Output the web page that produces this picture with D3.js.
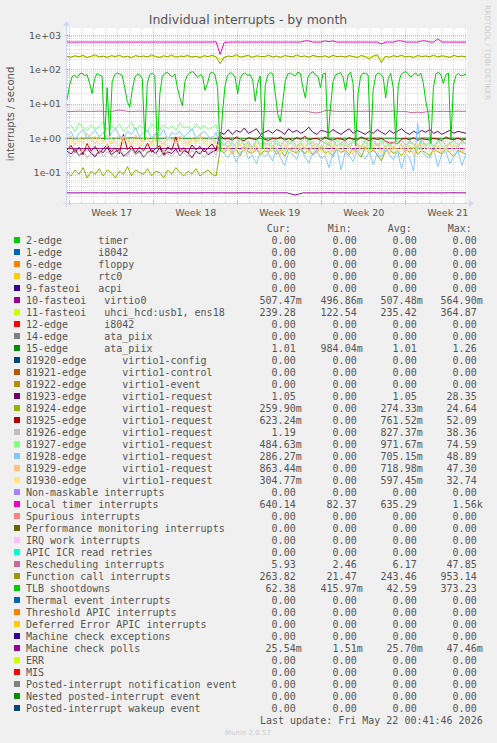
<!DOCTYPE html>
<html><head><meta charset="utf-8">
<script src="https://cdn.jsdelivr.net/npm/d3@7"></script>
<style>
html,body{margin:0;padding:0;background:#F0F0F0;}
svg{display:block;}
text{font-family:"DejaVu Sans",sans-serif;}
.mono{font-family:"DejaVu Sans Mono",monospace;font-size:10px;white-space:pre;}
</style></head><body>
<svg id="c" width="497" height="743"></svg>
<script>
// ---------------- data ----------------
const titleText = "Individual interrupts - by month";
const yAxisTitle = "interrupts / second";
const yTickValues = [0.1, 1, 10, 100, 1000];
const yTickLabels = ["1e-01", "1e+00", "1e+01", "1e+02", "1e+03"];
const weekStarts = ["2026-04-20", "2026-04-27", "2026-05-04", "2026-05-11", "2026-05-18"];
const weekLabels = ["Week 17", "Week 18", "Week 19", "Week 20", "Week 21"];

const virtio0 = [0.507,0.508,0.507,0.506,0.507,0.509,0.507,0.507,0.508,0.506,
 0.507,0.507,0.508,0.507,0.506,0.507,0.509,0.507,0.507,0.508,
 0.507,0.506,0.507,0.507,0.508,0.507,0.507,0.506,0.509,0.507,
 0.507,0.508,0.507,0.506,0.507,0.507,0.508,0.507,0.506,0.507,
 0.509,0.507,0.507,0.508,0.507,0.506,0.507,0.507,0.508,0.507];
const usbEns = [236,234,237,235,238,233,236,239,235,234,
 237,235,233,236,238,234,236,235,237,233,
 235,238,234,236,233,237,235,236,234,238,
 236,233,235,237,234,236,238,235,200,232,
 234,236,238,235,233,237,234,236,235,238,
 233,236,235,237,234,238,235,233,236,234,
 237,235,233,236,238,234,236,235,237,233,
 235,238,234,236,233,237,235,236,210,238,
 236,233,235,237,234,236,238,235,233,237,
 234,236,238,235,233,237,234,236,235,234];
const ataPiix = [1.01,1.00,1.01,1.02,1.01,1.00,1.01,1.01,1.03,1.01,
 1.00,1.01,1.01,1.02,1.01,1.00,1.01,1.01,1.00,1.01,
 1.02,1.01,1.00,1.01,1.01,1.02,1.01,1.00,1.01,1.01,
 1.00,1.01,1.02,1.01,1.01,1.00,1.01,1.01,1.02,1.01,
 1.01,1.00,1.01,1.01,1.02,1.01,1.00,1.01,1.01,1.01];
const req23 = [.42,.35,.48,.31,.39,.52,.36,.29,.44,.38,
 .55,.33,.41,.47,.30,.37,.50,.34,.43,.28,
 .39,.46,.35,.53,.32,.40,.36,.49,.31,.44,
 .38,.27,.42,.35,.51,.33,.40,.45,1.5,1.3,
 1.8,1.3,1.7,1.5,2.0,1.4,1.6,1.9,1.3,1.5,
 1.7,1.4,1.8,1.6,1.3,1.9,1.5,1.7,1.4,1.6,
 2.1,1.5,1.3,1.7,1.6,1.4,1.8,1.5,1.3,1.6,
 1.9,1.4,1.7,1.5,1.3,1.6,1.4,1.8,1.5,1.3,
 1.7,1.4,1.6,1.9,1.5,1.3,1.6,1.4,1.7,1.5,
 1.8,1.4,1.6,1.3,1.5,1.7,1.4,1.6,1.5,1.4];
const req24 = [.10,.08,.12,.09,.14,.07,.11,.09,.13,.08,
 .12,.10,.07,.11,.09,.15,.08,.12,.10,.09,
 .13,.08,.11,.10,.07,.12,.09,.14,.10,.08,
 .11,.09,.13,.08,.10,.12,.09,.08,.45,.38,
 .52,.35,.47,.31,.58,.40,.36,.49,.33,.44,
 .39,.55,.34,.46,.30,.50,.42,.37,.53,.35,
 .48,.32,.44,.57,.36,.41,.30,.51,.38,.45,
 .34,.49,.40,.28,.55,.37,.46,.33,.22,.42,
 .50,.36,.43,.31,.47,.39,.56,.34,.44,.38,
 .32,.48,.41,.35,.52,.37,.30,.45,.39,.34];
const req25 = [.45,.62,.38,.55,.33,.70,.42,.58,.36,.50,
 .65,.40,.52,.35,1.3,.47,.60,.38,.55,.43,
 .72,.39,.50,.61,.34,.56,.45,1.1,.41,.53,
 .37,.64,.46,.58,.40,.52,.68,.44,1.2,.95,
 1.0,.88,1.1,.92,.85,1.05,.97,.90,1.2,.93,
 .87,1.0,.95,1.1,.89,.98,.86,1.05,.93,1.15,
 .90,.97,1.0,.85,1.1,.92,.88,1.0,.95,.87,
 1.05,.93,.89,1.1,.96,.86,1.0,.92,.98,.85,
 .72,.75,.70,.95,1.0,.90,1.05,.88,.97,.93,
 .89,1.0,.94,.86,1.1,.95,.90,1.02,.88,.96];
const req26 = [.35,.28,.42,.31,.48,.26,.38,.33,.45,.29,
 .40,.32,.27,.44,.36,.30,.50,.34,.39,.27,
 .43,.31,.37,.28,.46,.35,.30,.41,.33,.38,
 .29,.45,.34,.40,.27,.36,.48,.32,.75,.62,
 .85,.58,.72,.95,.64,.80,.55,.90,.68,.77,
 .60,.88,.70,.57,.93,.66,.82,.59,.76,1.0,
 .65,.79,.56,.87,.71,.62,.92,.58,.74,.83,
 .63,.90,.69,.55,.81,.66,.94,.60,.72,.85,
 .58,.77,.67,.89,.61,.84,.70,.56,.91,.64,
 .80,.62,.75,.96,.59,.73,.86,.65,.78,.70];
const req27 = [1.9,2.4,1.6,2.8,2.0,1.7,2.5,1.8,2.2,3.0,
 1.7,2.3,1.9,2.6,1.6,2.1,2.9,1.8,2.4,2.0,
 1.6,2.7,2.1,1.8,2.5,1.9,2.3,1.7,2.8,2.0,
 2.2,1.7,2.6,1.9,2.4,1.8,2.1,2.5,0.9,0.7,
 .55,.80,.48,.95,.62,.72,.45,.88,.58,.68,
 .75,.50,.92,.60,.42,.85,.66,.53,.78,.47,
 .90,.57,.70,.46,.83,.63,.52,.97,.61,.74,
 .49,.81,.65,.56,.88,.44,.76,.59,.93,.54,
 .70,.47,.86,.62,.51,.79,.68,.45,.84,.57,
 .73,.52,.89,.60,.48,.77,.64,.55,.82,.66];
const req28 = [1.2,1.6,0.9,1.4,1.8,1.0,1.3,1.7,1.1,1.5,
 0.9,1.4,1.9,1.2,1.0,1.6,1.3,2.0,1.1,1.5,
 1.7,1.0,1.4,1.2,1.8,0.9,1.5,1.3,1.6,1.1,
 1.4,1.9,1.0,1.3,1.6,1.2,0.9,1.5,.50,.35,
 .28,.45,.20,.38,.55,.25,.32,.18,.42,.30,
 .36,.22,.48,.27,.16,.40,.33,.24,.52,.29,
 .19,.37,.44,.26,.31,.14,.35,.47,.12,.39,
 .30,.21,.46,.34,.25,.41,.17,.38,.28,.50,
 .33,.24,.43,.13,.36,.27,.11,2.8,.39,.31,
 .26,.48,.15,.35,.42,.18,.30,.44,.16,.37];
const req29 = [.85,1.2,.65,1.0,.75,1.4,.90,.70,1.1,.80,
 1.3,.68,.95,1.15,.72,1.0,.62,1.25,.88,.78,
 1.05,.70,1.35,.82,.66,1.1,.92,.74,1.2,.86,
 .69,1.0,.80,1.3,.76,.93,1.15,.71,.60,.45,
 .62,.38,.55,.70,.42,.66,.35,.58,.48,.75,
 .40,.63,.52,.33,.68,.46,.57,.39,.72,.50,
 .44,.65,.36,.59,.49,.78,.41,.54,.37,.67,
 .53,.34,.70,.45,.61,.38,.56,.73,.43,.60,
 .35,.57,.47,.69,.40,.63,.32,.51,.74,.46,
 .58,.41,.66,.37,.55,.71,.44,.60,.39,.52];
const req30 = [.70,.95,.60,1.1,.78,.55,.88,1.2,.66,.82,
 .58,1.0,.74,.62,1.15,.80,.68,.92,.57,1.05,
 .76,.63,.98,.71,.59,1.1,.84,.65,.90,.73,
 .61,.87,.69,1.0,.77,.56,.94,.67,.50,.40,
 .55,.32,.48,.65,.38,.58,.44,.70,.36,.52,
 .62,.40,.53,.35,.67,.45,.30,.59,.49,.72,
 .37,.56,.64,.42,.50,.33,.68,.46,.57,.39,
 .60,.43,.35,.66,.51,.40,.71,.47,.36,.58,
 .45,.63,.38,.54,.30,.61,.49,.74,.41,.55,
 .50,.34,.62,.44,.57,.39,.67,.48,.42,.60];
const localTimer = [640,641,639,640,642,640,639,641,640,640,
 641,640,639,640,642,641,640,639,640,641,
 640,639,641,640,640,642,640,639,641,640,
 640,641,640,639,640,641,640,655,280,630,
 638,640,641,640,639,640,641,640,640,639,
 640,641,640,639,640,641,640,640,641,690,
 690,640,640,640,690,660,690,640,640,641,
 640,639,640,641,640,640,639,640,560,640,
 640,640,690,690,640,641,640,640,690,690,
 640,640,800,640,641,640,640,639,640,640];
const resched = [6.1,6.0,6.1,6.2,6.1,6.0,6.1,6.1,6.2,6.1,
 6.0,6.1,6.3,6.6,6.4,6.1,6.0,6.1,6.2,6.1,
 6.1,6.0,6.1,6.1,6.2,6.1,6.0,6.1,6.1,6.0,
 6.1,6.2,6.1,6.0,6.1,6.1,6.0,6.1,5.9,6.0,
 6.1,6.1,6.0,6.1,6.2,6.1,6.0,6.1,6.1,6.0,
 6.1,6.0,6.1,6.2,6.1,6.1,6.0,6.1,6.1,6.2,
 6.0,5.6,5.5,5.8,6.3,6.6,6.2,6.1,6.0,6.1,
 6.1,6.0,6.1,6.1,6.2,6.1,6.0,6.1,6.1,6.0,
 6.1,6.2,6.1,6.0,6.1,5.7,5.6,5.8,5.6,5.9,
 6.2,6.1,6.0,6.1,6.1,6.0,6.1,6.2,6.1,6.1];
const funcCall = [245,230,255,238,262,225,248,270,235,250,
 228,258,242,265,232,247,222,260,240,252,
 236,268,243,226,255,239,272,231,250,244,
 260,233,248,225,257,241,266,236,150,228,
 252,240,275,232,248,262,229,255,243,238,
 268,234,251,227,259,245,236,270,241,253,
 230,262,244,237,256,228,265,240,249,233,
 258,243,226,262,239,205,250,271,160,246,
 229,257,240,266,235,248,224,260,243,252,
 238,270,232,255,244,228,263,240,250,236];
const tlb = [13,35,62,70,58,75,80,66,72,40,
 20,55,78,70,64,0.9,30,1.2,45,72,
 80,76,68,30,12,8,25,60,74,70,
 55,0.9,40,72,80,66,0.5,20,65,78,
 84,70,62,75,30,15,9,45,70,82,
 88,76,60,72,65,25,40,78,85,70,
 30,0.42,6,35,70,82,76,60,20,55,
 75,80,68,72,50,12,40,66,0.5,35,
 70,82,76,20,5,3,12,48,75,80,
 72,66,85,78,30,15,60,78,88,70,
 64,30,75,80,1.0,8,45,70,76,82,
 60,25,70,85,40,0.6,20,65,80,78,
 70,0.5,25,68,80,74,60,15,55,78,
 30,0.8,35,70,82,88,76,60,72,80,
 65,80,40,12,5,0.7,30,75,85,70,
 40,72,80,0.9,35,68,78,66,70,75];
const mcPolls = [0.0257,0.0256,0.0258,0.0257,0.0257,0.0256,0.0257,0.0258,0.0257,0.0256,
 0.0257,0.0257,0.0258,0.0256,0.0257,0.0257,0.0256,0.0258,0.0257,0.0257,
 0.0256,0.0257,0.0258,0.0257,0.0256,0.0257,0.0257,0.0258,0.0222,0.0257,
 0.0256,0.0257,0.0258,0.0257,0.0257,0.0256,0.0257,0.0258,0.0257,0.0256,
 0.0257,0.0257,0.0258,0.0256,0.0257,0.0257,0.0256,0.0258,0.0257,0.0257];

const legendNames = ["2-edge      timer","1-edge      i8042","6-edge      floppy","8-edge      rtc0",
 "9-fasteoi   acpi","10-fasteoi   virtio0","11-fasteoi   uhci_hcd:usb1, ens18","12-edge      i8042",
 "14-edge      ata_piix","15-edge      ata_piix","81920-edge      virtio1-config","81921-edge      virtio1-control",
 "81922-edge      virtio1-event","81923-edge      virtio1-request","81924-edge      virtio1-request",
 "81925-edge      virtio1-request","81926-edge      virtio1-request","81927-edge      virtio1-request",
 "81928-edge      virtio1-request","81929-edge      virtio1-request","81930-edge      virtio1-request",
 "Non-maskable interrupts","Local timer interrupts","Spurious interrupts","Performance monitoring interrupts",
 "IRQ work interrupts","APIC ICR read retries","Rescheduling interrupts","Function call interrupts",
 "TLB shootdowns","Thermal event interrupts","Threshold APIC interrupts","Deferred Error APIC interrupts",
 "Machine check exceptions","Machine check polls","ERR","MIS","Posted-interrupt notification event",
 "Nested posted-interrupt event","Posted-interrupt wakeup event"];
const legendColors = ["#00CC00","#0066B3","#FF8000","#FFCC00","#330099","#990099","#CCFF00","#FF0000",
 "#808080","#008F00","#00487D","#B35A00","#B38F00","#6B006B","#8FB300","#B30000","#BEBEBE","#80FF80",
 "#80C9FF","#FFC080","#FFE680","#AA80FF","#EE00CC","#FF8080","#666600","#FFBFFF","#00FFCC","#CC6699",
 "#999900","#00CC00","#0066B3","#FF8000","#FFCC00","#330099","#990099","#CCFF00","#FF0000","#808080",
 "#008F00","#00487D"];
const Z = "0.00";
const curVals = [Z,Z,Z,Z,Z,"507.47m","239.28",Z,Z,"1.01",Z,Z,Z,"1.05","259.90m","623.24m","1.19","484.63m",
 "286.27m","863.44m","304.77m",Z,"640.14",Z,Z,Z,Z,"5.93","263.82","62.38",Z,Z,Z,Z,"25.54m",Z,Z,Z,Z,Z];
const minVals = [Z,Z,Z,Z,Z,"496.86m","122.54",Z,Z,"984.04m",Z,Z,Z,Z,Z,Z,Z,Z,
 Z,Z,Z,Z,"82.37",Z,Z,Z,Z,"2.46","21.47","415.97m",Z,Z,Z,Z,"1.51m",Z,Z,Z,Z,Z];
const avgVals = [Z,Z,Z,Z,Z,"507.48m","235.42",Z,Z,"1.01",Z,Z,Z,"1.05","274.33m","761.52m","827.37m","971.67m",
 "705.15m","718.98m","597.45m",Z,"635.29",Z,Z,Z,Z,"6.17","243.46","42.59",Z,Z,Z,Z,"25.70m",Z,Z,Z,Z,Z];
const maxVals = [Z,Z,Z,Z,Z,"564.90m","364.87",Z,Z,"1.26",Z,Z,Z,"28.35","24.64","52.09","38.36","74.59",
 "48.89","47.30","32.74",Z,"1.56k",Z,Z,Z,Z,"47.85","953.14","373.23",Z,Z,Z,Z,"47.46m",Z,Z,Z,Z,Z];
const columnHeaders = ["Cur:", "Min:", "Avg:", "Max:"];
const lastUpdate = "Last update: Fri May 22 00:41:46 2026";
const footer = "Munin 2.0.57";
const sideText = "RRDTOOL / TOBI OETIKER";

// series drawn in legend order: [legend index, values]
const plotted = [[5, virtio0],[6, usbEns],[9, ataPiix],[13, req23],[14, req24],[15, req25],[16, req26],
 [17, req27],[18, req28],[19, req29],[20, req30],[22, localTimer],[27, resched],[28, funcCall],[29, tlb],[34, mcPolls]];

// ---------------- layout ----------------
const X0 = 67, XS = 400, Y0 = 203, YS = 175;
const timeStart = new Date(Date.UTC(2026, 3, 19, 18, 36));
const spanMs = 400 / 12 * 86400000;
const timeEnd = new Date(timeStart.getTime() + spanMs);
const FONT = "#555555";
const MINOR = "rgba(143,143,143,0.32)", MAJOR = "rgba(222,79,79,0.45)";

const svg = d3.select("#c");
svg.append("rect").attr("width", 497).attr("height", 743).attr("fill", "#F0F0F0");
svg.append("rect").attr("x", X0).attr("y", Y0 - YS).attr("width", XS).attr("height", YS).attr("fill", "#FFFFFF");

const x = d3.scaleUtc().domain([timeStart, timeEnd]).range([X0, X0 + XS]);
const y = d3.scaleLog().domain([0.013, 1644]).range([Y0, Y0 - YS]);

const snap = v => Math.round(v) + 0.5;

// horizontal grid (log ticks: 1..9 x 10^k)
const g = svg.append("g");
const allY = y.ticks(30);
allY.forEach(v => {
  const major = Math.abs(Math.log10(v) - Math.round(Math.log10(v))) < 1e-9;
  const yy = snap(y(v) - 0.5);
  if (yy < Y0 - YS || yy > Y0) return;
  g.append("line").attr("x1", X0).attr("x2", X0 + XS).attr("y1", yy).attr("y2", yy)
    .attr("stroke", major ? MAJOR : MINOR)
    .attr("stroke-width", 1).attr("stroke-dasharray", "1,1");
  const tl = major ? 2 : 1;
  g.append("line").attr("x1", X0 - tl).attr("x2", X0 + tl).attr("y1", yy).attr("y2", yy)
      .attr("stroke", major ? MAJOR : MINOR).attr("stroke-width", 1);
});
// vertical grid
const days = d3.utcDay.range(d3.utcDay.ceil(timeStart), timeEnd);
const weekDates = weekStarts.map(s => new Date(s + "T00:00:00Z"));
const isWeek = d => weekDates.some(w => w.getTime() === d.getTime());
days.forEach(d => {
  const major = isWeek(d);
  const xx = snap(x(d) - 0.5);
  g.append("line").attr("x1", xx).attr("x2", xx).attr("y1", Y0 - YS).attr("y2", Y0)
    .attr("stroke", major ? MAJOR : MINOR)
    .attr("stroke-width", 1).attr("stroke-dasharray", "1,1");
  const tl = major ? 2 : 1;
  g.append("line").attr("x1", xx).attr("x2", xx).attr("y1", Y0 - tl).attr("y2", Y0 + tl)
      .attr("stroke", major ? MAJOR : MINOR).attr("stroke-width", 1);
});

// series
svg.append("clipPath").attr("id", "clip").append("rect")
  .attr("x", X0).attr("y", Y0 - YS).attr("width", XS).attr("height", YS);
const lineGen = d3.line()
  .defined(d => d > 0)
  .x((d, i, arr) => x(new Date(timeStart.getTime() + i * (spanMs * 399 / 400) / (arr.length - 1))))
  .y(d => y(d));
const sg = svg.append("g").attr("clip-path", "url(#clip)");
plotted.forEach(([li, vals]) => {
  sg.append("path").attr("d", lineGen(vals)).attr("fill", "none")
    .attr("stroke", legendColors[li]).attr("stroke-width", 1).attr("stroke-linejoin", "round");
});

// axes
const AX = "#CFD6F8";
svg.append("line").attr("x1", X0 - 4).attr("x2", X0 + XS + 4).attr("y1", Y0 + 0.5).attr("y2", Y0 + 0.5)
  .attr("stroke", AX).attr("stroke-width", 1);
svg.append("line").attr("x1", X0 - 0.5).attr("x2", X0 - 0.5).attr("y1", Y0 + 4).attr("y2", Y0 - YS - 4)
  .attr("stroke", AX).attr("stroke-width", 1);
svg.append("polygon").attr("points", [[X0+XS+2, Y0-3],[X0+XS+2, Y0+4],[X0+XS+7, Y0+0.5]].join(" ")).attr("fill", AX);
svg.append("polygon").attr("points", [[X0-4, Y0-YS-2],[X0+3, Y0-YS-2],[X0-0.5, Y0-YS-7]].join(" ")).attr("fill", AX);

// y tick labels
yTickValues.forEach((v, i) => {
  svg.append("text").attr("x", 61).attr("y", y(v) + 3.4).attr("text-anchor", "end")
    .attr("font-size", "9.5px").attr("fill", FONT).text(yTickLabels[i]);
});
// x labels
weekDates.forEach((d, i) => {
  const mid = new Date(d.getTime() + 3.5 * 86400000);
  svg.append("text").attr("x", x(mid)).attr("y", 216).attr("text-anchor", "middle")
    .attr("font-size", "9.5px").attr("fill", FONT).text(weekLabels[i]);
});

// titles
svg.append("text").attr("x", 248).attr("y", 24).attr("text-anchor", "middle")
  .attr("font-size", "12.5px").attr("fill", FONT).text(titleText);
svg.append("text").attr("transform", "translate(14,114) rotate(-90)").attr("text-anchor", "middle")
  .attr("font-size", "10px").attr("fill", FONT).text(yAxisTitle);
svg.append("text").attr("transform", "translate(485,5) rotate(90)").attr("text-anchor", "start")
  .attr("font-size", "7.4px").attr("fill", "#CCCCCC").text(sideText);

// legend
const colEnds = [295.7, 356.7, 416.7, 476.7];
columnHeaders.forEach((h, i) => {
  svg.append("text").attr("class", "mono").attr("x", colEnds[i] - 29).attr("y", 231.5)
    .attr("fill", FONT).text(h);
});
const cols = [curVals, minVals, avgVals, maxVals];
legendNames.forEach((name, k) => {
  const cy = 240 + 12 * k;
  svg.append("rect").attr("x", 14).attr("y", cy - 3).attr("width", 6).attr("height", 6)
    .attr("fill", legendColors[k]);
  svg.append("text").attr("class", "mono").attr("xml:space", "preserve").attr("x", 26).attr("y", cy + 3.5)
    .attr("fill", FONT).text(name);
  cols.forEach((arr, c) => {
    const m = arr[k].match(/^([\d.]+)([mk]?)$/);
    svg.append("text").attr("class", "mono").attr("x", colEnds[c]).attr("y", cy + 3.5)
      .attr("text-anchor", "end").attr("fill", FONT).text(m[1]);
    if (m[2]) svg.append("text").attr("class", "mono").attr("x", colEnds[c]).attr("y", cy + 3.5)
      .attr("fill", FONT).text(m[2]);
  });
});
svg.append("text").attr("class", "mono").attr("x", 482.7).attr("y", 240 + 12 * 40 + 3.5)
  .attr("text-anchor", "end").attr("fill", FONT).text(lastUpdate);
svg.append("text").attr("x", 248).attr("y", 734.5).attr("text-anchor", "middle")
  .attr("font-size", "7px").attr("fill", "#CCCCCC").text(footer);
</script>
</body></html>
